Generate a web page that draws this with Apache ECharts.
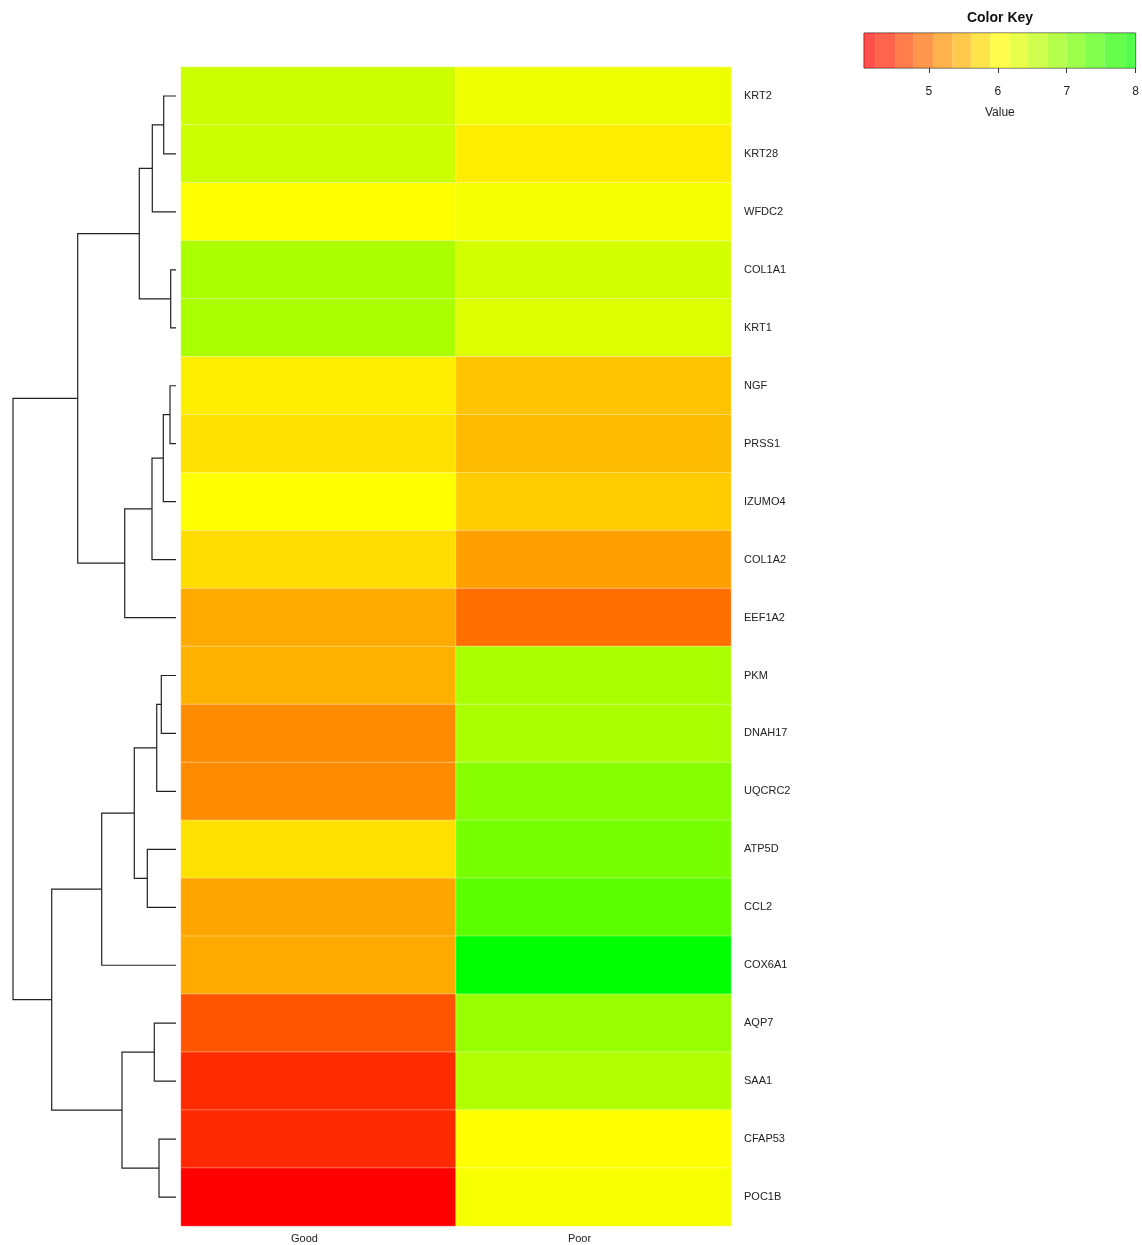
<!DOCTYPE html>
<html>
<head>
<meta charset="utf-8">
<script src="https://cdn.jsdelivr.net/npm/echarts@6/dist/echarts.min.js"></script>
<style>
html,body{margin:0;padding:0;background:#fff;}
#chart{width:1142px;height:1245px;}
</style>
</head>
<body>
<div id="chart"></div>
<script>
// ---- data ----
var genes = ['KRT2','KRT28','WFDC2','COL1A1','KRT1','NGF','PRSS1','IZUMO4','COL1A2','EEF1A2','PKM','DNAH17','UQCRC2','ATP5D','CCL2','COX6A1','AQP7','SAA1','CFAP53','POC1B'];
var groups = ['Good','Poor'];
var goodValues = [6.44,6.44,6.05,6.70,6.70,5.92,5.81,6.05,5.79,5.40,5.45,5.17,5.17,5.81,5.36,5.40,4.75,4.44,4.41,4.10];
var poorValues = [6.18,5.92,6.12,6.38,6.31,5.60,5.53,5.66,5.32,4.96,6.70,6.70,6.96,7.09,7.30,8.00,6.83,6.65,6.05,6.10];
// dendrogram merges (negative = leaf index+1, positive = earlier merge number)
var mergePairs = [[-1,-2],[1,-3],[-4,-5],[2,3],[-6,-7],[5,-8],[6,-9],[7,-10],[4,8],
  [-11,-12],[10,-13],[-14,-15],[11,12],[13,-16],[-17,-18],[-19,-20],[15,16],[14,17],[9,18]];
var mergeHeights = [12.3,23.7,5.3,36.7,6,12.7,24,51.3,98.3,14.7,19.3,28.7,41.7,74.3,21.7,17,54,124.3,163];
var keyBreaks = [4.06,4.23,4.51,4.78,5.06,5.34,5.61,5.89,6.17,6.44,6.72,7.0,7.27,7.55,7.85,8.0];
var keyTicks = [5,6,7,8];
var valueMin = 4.1, valueMax = 8.0;

// ---- helpers ----
function palette(v){
  var mid = (valueMin+valueMax)/2;
  var r,g;
  if (v <= mid){ r=255; g=Math.round(255*Math.max(0,(v-valueMin))/(mid-valueMin)); }
  else { g=255; r=Math.round(255*(1-Math.min(1,(v-mid)/(valueMax-mid)))); }
  return 'rgb('+r+','+g+',0)';
}
var heatData = [];
for (var i=0;i<genes.length;i++){
  heatData.push([0,i,goodValues[i]]);
  heatData.push([1,i,poorValues[i]]);
}
// node positions
var nodeY = [];
function childY(c){ return c<0 ? (-c-1)+0.5 : nodeY[c-1]; }
function childH(c){ return c<0 ? 0 : mergeHeights[c-1]; }
for (var m=0;m<mergePairs.length;m++){
  nodeY.push((childY(mergePairs[m][0])+childY(mergePairs[m][1]))/2);
}
var dendroData = mergeHeights.map(function(h,k){ return [h,nodeY[k],k]; });
var keyData = [];
for (var b=0;b<keyBreaks.length-1;b++) keyData.push([keyBreaks[b],keyBreaks[b+1],(keyBreaks[b]+keyBreaks[b+1])/2]);

var FONT = 'Liberation Sans, Arial, sans-serif';
var chart = echarts.init(document.getElementById('chart'));
chart.setOption({
  animation:false,
  backgroundColor:'#ffffff',
  textStyle:{fontFamily:FONT},
  graphic:[{type:'text', x:1000, y:18, style:{text:'Color Key', fontFamily:FONT, fontSize:14, fontWeight:'bold', fill:'#111', textAlign:'center', textVerticalAlign:'middle'}}],
  grid:[
    {left:181, top:67, width:550, height:1159},
    {left:13, top:67, width:163, height:1159},
    {left:864, top:33, width:273, height:35, show:true, borderColor:'#444', borderWidth:1, backgroundColor:'transparent'}
  ],
  xAxis:[
    {gridIndex:0, type:'category', data:groups, position:'bottom',
     axisLine:{show:false}, axisTick:{show:false}, splitLine:{show:false},
     axisLabel:{fontSize:11, color:'#222', margin:7, fontFamily:FONT, padding:[0,28,0,0]}},
    {gridIndex:1, type:'value', min:0, max:163, inverse:true, show:false},
    {gridIndex:2, type:'value', min:4.06, max:8.0, position:'bottom',
     axisLine:{show:false}, splitLine:{show:false},
     axisTick:{show:true, length:5, lineStyle:{color:'#333'}, customValues:keyTicks},
     axisLabel:{show:true, fontSize:12, color:'#222', margin:18, customValues:keyTicks, fontFamily:FONT},
     name:'Value', nameLocation:'middle', nameGap:39, nameTextStyle:{fontSize:12, color:'#222', fontFamily:FONT}}
  ],
  yAxis:[
    {gridIndex:0, type:'category', data:genes, inverse:true, position:'right',
     axisLine:{show:false}, axisTick:{show:false}, splitLine:{show:false},
     axisLabel:{fontSize:11, color:'#222', margin:13, fontFamily:FONT, padding:[4,0,0,0]}},
    {gridIndex:1, type:'value', min:0, max:20, inverse:true, show:false},
    {gridIndex:2, type:'value', min:0, max:1, show:false}
  ],
  visualMap:{show:false, type:'continuous', seriesIndex:0, dimension:2, min:valueMin, max:valueMax,
    inRange:{color:['#ff0000','#ffff00','#00ff00']}},
  series:[
    {type:'heatmap', xAxisIndex:0, yAxisIndex:0, data:heatData,
     itemStyle:{borderColor:'rgba(255,255,255,0.35)', borderWidth:1},
     emphasis:{disabled:true}},
    {type:'custom', xAxisIndex:1, yAxisIndex:1, data:dendroData, clip:false,
     renderItem:function(params, api){
       var k = api.value(2);
       var p = mergePairs[k], h = mergeHeights[k];
       var a = api.coord([childH(p[0]), childY(p[0])]);
       var b = api.coord([h, childY(p[0])]);
       var c = api.coord([h, childY(p[1])]);
       var d = api.coord([childH(p[1]), childY(p[1])]);
       return {type:'polyline', shape:{points:[a,b,c,d]}, style:{stroke:'#222', lineWidth:1.2, fill:null}};
     }},
    {type:'custom', xAxisIndex:2, yAxisIndex:2, data:keyData, clip:true,
     renderItem:function(params, api){
       var p0 = api.coord([api.value(0),0]);
       var p1 = api.coord([api.value(1),1]);
       return {type:'rect', shape:{x:p0[0], y:p1[1], width:p1[0]-p0[0], height:p0[1]-p1[1]},
               style:{fill:palette(api.value(2)), opacity:0.7}};
     }}
  ]
});
</script>
</body>
</html>
